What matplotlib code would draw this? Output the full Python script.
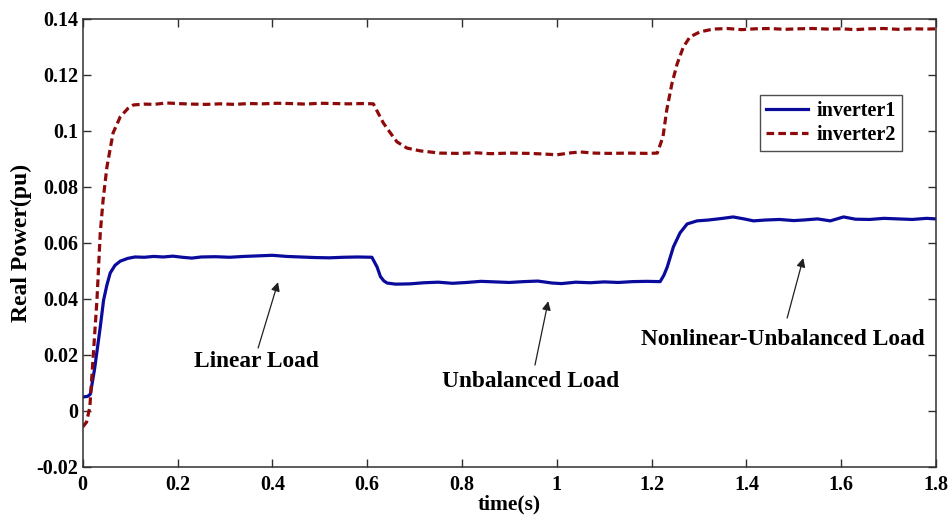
import matplotlib
matplotlib.use('Agg')
import matplotlib.pyplot as plt

# inverter1 (solid blue)
t1 = [0.000, 0.010, 0.016, 0.025, 0.037, 0.044, 0.051, 0.058, 0.068, 0.079,
      0.095, 0.110, 0.130, 0.150, 0.170, 0.190, 0.210, 0.230, 0.250, 0.280,
      0.310, 0.340, 0.370, 0.400, 0.430, 0.460, 0.490, 0.520, 0.550, 0.580,
      0.610, 0.621, 0.628, 0.635, 0.642, 0.660, 0.690, 0.720, 0.750, 0.780,
      0.810, 0.840, 0.870, 0.900, 0.930, 0.960, 0.990, 1.010, 1.040, 1.070,
      1.100, 1.130, 1.160, 1.190, 1.218, 1.226, 1.233, 1.246, 1.260, 1.275,
      1.296, 1.320, 1.350, 1.372, 1.395, 1.415, 1.440, 1.470, 1.500, 1.520,
      1.550, 1.577, 1.605, 1.630, 1.660, 1.690, 1.720, 1.750, 1.780, 1.800]
p1 = [0.0050, 0.0052, 0.0060, 0.0150, 0.0300, 0.0396, 0.0450, 0.0493, 0.0520, 0.0535,
      0.0545, 0.0550, 0.0549, 0.0552, 0.0550, 0.0553, 0.0549, 0.0546, 0.0550, 0.0551,
      0.0549, 0.0552, 0.0554, 0.0556, 0.0552, 0.0550, 0.0548, 0.0547, 0.0549, 0.0550,
      0.0549, 0.0514, 0.0480, 0.0465, 0.0457, 0.0453, 0.0454, 0.0458, 0.0460, 0.0456,
      0.0459, 0.0463, 0.0461, 0.0459, 0.0462, 0.0464, 0.0457, 0.0455, 0.0460, 0.0458,
      0.0461, 0.0459, 0.0462, 0.0463, 0.0462, 0.0485, 0.0514, 0.0586, 0.0636, 0.0668,
      0.0679, 0.0682, 0.0688, 0.0693, 0.0686, 0.0679, 0.0682, 0.0684, 0.0680, 0.0682,
      0.0686, 0.0679, 0.0693, 0.0685, 0.0684, 0.0688, 0.0686, 0.0684, 0.0688, 0.0686]

# inverter2 (dashed dark red)
t2 = [0.000, 0.008, 0.015, 0.022, 0.030, 0.037, 0.043, 0.051, 0.064, 0.079,
      0.095, 0.107, 0.130, 0.150, 0.177, 0.200, 0.230, 0.260, 0.290, 0.320,
      0.350, 0.380, 0.410, 0.440, 0.470, 0.500, 0.530, 0.560, 0.590, 0.613,
      0.634, 0.649, 0.663, 0.684, 0.712, 0.754, 0.790, 0.830, 0.860, 0.900,
      0.940, 0.970, 1.000, 1.030, 1.050, 1.080, 1.110, 1.150, 1.190, 1.212,
      1.224, 1.232, 1.243, 1.254, 1.267, 1.281, 1.302, 1.330, 1.360, 1.390,
      1.420, 1.450, 1.480, 1.510, 1.540, 1.570, 1.600, 1.630, 1.660, 1.690,
      1.720, 1.750, 1.780, 1.800]
p2 = [-0.0057, -0.0040, 0.0014, 0.0193, 0.0396, 0.0636, 0.0754, 0.0871, 0.0993, 0.1050,
      0.1080, 0.1093, 0.1096, 0.1095, 0.1100, 0.1098, 0.1096, 0.1095, 0.1097, 0.1095,
      0.1098, 0.1097, 0.1099, 0.1098, 0.1096, 0.1099, 0.1098, 0.1097, 0.1098, 0.1097,
      0.1029, 0.0993, 0.0961, 0.0939, 0.0929, 0.0921, 0.0920, 0.0922, 0.0919, 0.0921,
      0.0920, 0.0918, 0.0915, 0.0922, 0.0925, 0.0921, 0.0920, 0.0921, 0.0920, 0.0921,
      0.0979, 0.1075, 0.1170, 0.1240, 0.1300, 0.1336, 0.1354, 0.1364, 0.1366, 0.1362,
      0.1365, 0.1366, 0.1363, 0.1365, 0.1366, 0.1364, 0.1365, 0.1362, 0.1365, 0.1366,
      0.1363, 0.1365, 0.1364, 0.1365]

# annotations: text, text position, arrow tail, arrow tip
notes = ['Linear Load', 'Unbalanced Load', 'Nonlinear-Unbalanced Load']
note_xy = [(0.366, 0.0175), (0.944, 0.0104), (1.477, 0.0257)]
tail_xy = [(0.370, 0.0225), (0.954, 0.0164), (1.486, 0.0332)]
tip_xy = [(0.412, 0.0460), (0.982, 0.0392), (1.520, 0.0546)]

plt.rcParams['font.family'] = 'Liberation Serif'
plt.rcParams['font.weight'] = 'bold'

fig = plt.figure(figsize=(9.52, 5.16), dpi=100)
ax = fig.add_axes([0.0869, 0.095, 0.8963, 0.8682])

ax.plot(t1, p1, color='#0a0a9c', lw=2.3, label='inverter1')
ax.plot(t2, p2, color='#8e0a0a', lw=2.3, dashes=(2.4, 1.3), label='inverter2')

for txt, nxy, sxy, exy in zip(notes, note_xy, tail_xy, tip_xy):
    ax.text(nxy[0], nxy[1], txt, ha='center', va='center', fontsize=16.8,
            fontweight='bold')
    ax.annotate('', xy=exy, xytext=sxy,
                arrowprops=dict(arrowstyle='-|>', color='#202020', lw=0.9,
                                mutation_scale=13, shrinkA=0, shrinkB=0))

ax.set_xlim(0, 1.8)
ax.set_ylim(-0.02, 0.14)
ax.set_xticks([0, 0.2, 0.4, 0.6, 0.8, 1, 1.2, 1.4, 1.6, 1.8])
ax.set_xticklabels(['0', '0.2', '0.4', '0.6', '0.8', '1', '1.2', '1.4', '1.6', '1.8'])
ax.set_yticks([-0.02, 0, 0.02, 0.04, 0.06, 0.08, 0.1, 0.12, 0.14])
ax.set_yticklabels(['-0.02', '0', '0.02', '0.04', '0.06', '0.08', '0.1', '0.12', '0.14'])
ax.tick_params(direction='in', top=True, right=True, length=6, width=1,
               labelsize=14.5, colors='#303030', labelcolor='black')
ax.tick_params(axis='x', pad=5.5)
ax.tick_params(axis='y', pad=3)
for s in ax.spines.values():
    s.set_color('#303030')
    s.set_linewidth(1.1)

ax.set_xlabel('time(s)', fontsize=15.5, fontweight='bold', va='top')
ax.xaxis.set_label_coords(0.5, -0.0625)
ax.set_ylabel('Real Power(pu)', fontsize=17, fontweight='bold')
ax.yaxis.set_label_coords(-0.059, 0.5)

leg = ax.legend(loc='upper right', bbox_to_anchor=(0.960, 0.830), fontsize=14.5,
                frameon=True, fancybox=False, edgecolor='#202020',
                handlelength=2.1, handletextpad=0.4, borderpad=0.3,
                labelspacing=0.2, borderaxespad=0)
leg.get_frame().set_linewidth(1.0)

fig.savefig('out.png', dpi=100)
